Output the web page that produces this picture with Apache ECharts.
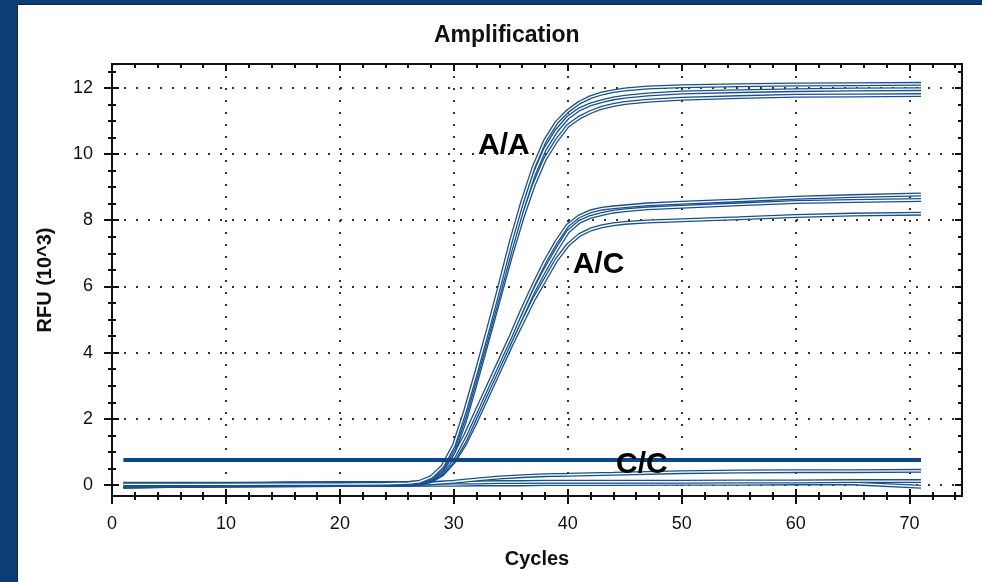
<!DOCTYPE html>
<html>
<head>
<meta charset="UTF-8">
<title>Amplification</title>
<script src="https://cdn.jsdelivr.net/npm/echarts@6/dist/echarts.min.js"></script>
<style>
    html, body { margin: 0; padding: 0; width: 982px; height: 582px; overflow: hidden; background: #0b3d76; }
    #frame { position: absolute; left: 17px; top: 4px; width: 965px; height: 578px; background: #fff;
             border-left: 1px solid #222; border-top: 1px solid #222; box-sizing: border-box; }
    #main { width: 964px; height: 577px; }
</style>
</head>
<body>
<div id="frame"><div id="main"></div></div>
<script type="text/javascript">
    // cycles sampled for the positive curves
    var cycles = [1, 5, 10, 15, 20, 24, 26, 27, 28, 29, 30, 31, 32, 33, 34, 35, 36, 37, 38, 39, 40, 41, 42, 43, 44, 45, 47, 50, 55, 60, 65, 71];
    // A/A wells
    var aa1 = [0.02, 0.02, 0.02, 0.03, 0.03, 0.04, 0.06, 0.1, 0.24, 0.56, 1.2, 2.25, 3.45, 4.7, 6.0, 7.35, 8.55, 9.6, 10.4, 10.95, 11.3, 11.55, 11.72, 11.83, 11.9, 11.95, 12.01, 12.05, 12.08, 12.1, 12.11, 12.12];
    var aa2 = [0, 0, 0, 0, 0.01, 0.02, 0.03, 0.08, 0.2, 0.5, 1.1, 2.1, 3.3, 4.55, 5.8, 7.1, 8.3, 9.35, 10.15, 10.7, 11.1, 11.35, 11.5, 11.6, 11.68, 11.73, 11.8, 11.86, 11.9, 11.93, 11.95, 11.96];
    var aa3 = [-0.04, -0.03, -0.02, -0.01, 0, 0.01, 0.02, 0.06, 0.17, 0.45, 1.0, 1.95, 3.15, 4.4, 5.65, 6.9, 8.05, 9.05, 9.85, 10.4, 10.85, 11.1, 11.27, 11.4, 11.48, 11.54, 11.61, 11.67, 11.72, 11.76, 11.77, 11.78];
    // A/C wells
    var ac1 = [0.04, 0.04, 0.04, 0.05, 0.05, 0.05, 0.06, 0.08, 0.15, 0.4, 0.85, 1.5, 2.25, 3.0, 3.75, 4.5, 5.3, 6.05, 6.75, 7.35, 7.85, 8.12, 8.27, 8.35, 8.39, 8.42, 8.48, 8.53, 8.6, 8.68, 8.73, 8.78];
    var ac2 = [-0.01, -0.01, 0, 0, 0.01, 0.01, 0.02, 0.05, 0.13, 0.35, 0.75, 1.35, 2.1, 2.85, 3.6, 4.35, 5.1, 5.85, 6.5, 7.1, 7.65, 7.95, 8.1, 8.19, 8.26, 8.3, 8.36, 8.41, 8.48, 8.55, 8.58, 8.61];
    var ac3 = [-0.02, 0, 0.01, 0.01, 0.01, 0.01, 0.02, 0.04, 0.12, 0.32, 0.7, 1.25, 1.95, 2.7, 3.45, 4.2, 4.9, 5.6, 6.2, 6.8, 7.25, 7.55, 7.72, 7.82, 7.88, 7.92, 7.96, 8.0, 8.06, 8.13, 8.17, 8.2];
    // C/C and near-zero wells
    var ccCycles = [1, 5, 10, 15, 20, 25, 28, 30, 32, 34, 36, 38, 40, 44, 50, 55, 60, 65, 71];
    var cc1 = [0, 0, 0, 0.01, 0.01, 0.02, 0.05, 0.1, 0.17, 0.23, 0.27, 0.3, 0.31, 0.34, 0.39, 0.41, 0.42, 0.42, 0.43];
    var cc2 = [-0.04, -0.02, 0, 0.05, 0.06, 0.06, 0.07, 0.08, 0.08, 0.09, 0.09, 0.1, 0.1, 0.1, 0.1, 0.11, 0.11, 0.12, 0.12];
    var cc3 = [-0.05, -0.03, -0.01, 0, 0, 0, 0.01, 0.01, 0.02, 0.02, 0.02, 0.03, 0.03, 0.03, 0.04, 0.04, 0.05, 0.05, -0.05];
    // threshold
    var thrCycles = [1, 71];
    var thr = [0.76, 0.76];
    // text labels on the plot
    var noteText = ['A/A', 'A/C', 'C/C'];
    var noteCycle = [34.4, 42.7, 46.5];
    var noteValue = [10.24, 6.65, 0.6];
    // ticks
    var xMajor = [0, 10, 20, 30, 40, 50, 60, 70];
    var xMinor = [2, 4, 6, 8, 12, 14, 16, 18, 22, 24, 26, 28, 32, 34, 36, 38, 42, 44, 46, 48, 52, 54, 56, 58, 62, 64, 66, 68, 72, 74];
    var yMajor = [0, 2, 4, 6, 8, 10, 12];
    var yMinor = [0.5, 1, 1.5, 2.5, 3, 3.5, 4.5, 5, 5.5, 6.5, 7, 7.5, 8.5, 9, 9.5, 10.5, 11, 11.5, 12.5];

    var xMin = 0, xMax = 74.6, yMin = -0.33, yMax = 12.72;
    var font = '"Liberation Sans", Arial, sans-serif';
    var ink = '#111';

    var myChart = echarts.init(document.getElementById('main'));

    function ax(pos, ticks, len, inside, isX) {
        return {
            type: 'value',
            position: pos,
            min: isX ? xMin : yMin,
            max: isX ? xMax : yMax,
            axisLine: { show: true, onZero: false, lineStyle: { color: ink, width: 2 } },
            axisTick: { show: true, inside: inside, length: len, customValues: ticks, lineStyle: { color: ink, width: 2 } },
            axisLabel: { show: false },
            splitLine: { show: false }
        };
    }

    var xMain = ax('bottom', xMajor, 8, false, true);
    xMain.axisLabel = { show: true, customValues: xMajor, fontSize: 18, margin: 19, color: ink, fontFamily: font };
    xMain.splitLine = { show: true, lineStyle: { color: '#333', width: 2, type: [2, 10] } };
    xMain.name = 'Cycles';
    xMain.nameLocation = 'middle';
    xMain.nameGap = 53;
    xMain.nameTextStyle = { fontSize: 20, fontWeight: 'bold', color: ink, fontFamily: font };

    var yMain = ax('left', yMajor, 8, false, false);
    yMain.axisLabel = { show: true, customValues: yMajor, fontSize: 18, margin: 19, color: ink, fontFamily: font };
    yMain.splitLine = { show: true, lineStyle: { color: '#333', width: 2, type: [2, 10] } };
    yMain.name = 'RFU (10^3)';
    yMain.nameLocation = 'middle';
    yMain.nameGap = 57;
    yMain.nameTextStyle = { fontSize: 20, fontWeight: 'bold', color: ink, fontFamily: font };

    var xAxes = [
        xMain,
        ax('bottom', xMajor, 7, true, true),
        ax('bottom', xMinor, 4, false, true),
        ax('bottom', xMinor, 4, true, true),
        ax('top', xMajor, 7, true, true),
        ax('top', xMinor, 4, true, true)
    ];
    var yAxes = [
        yMain,
        ax('left', yMajor, 7, true, false),
        ax('left', yMinor, 4, false, false),
        ax('left', yMinor, 4, true, false),
        ax('right', yMajor, 7, true, false),
        ax('right', yMinor, 4, true, false)
    ];

    function pairs(xs, ys) {
        var out = [];
        for (var i = 0; i < xs.length; i++) out.push([xs[i], ys[i]]);
        return out;
    }

    var curves = [
        pairs(ccCycles, cc3), pairs(ccCycles, cc2), pairs(ccCycles, cc1),
        pairs(cycles, ac3), pairs(cycles, ac2), pairs(cycles, ac1),
        pairs(cycles, aa3), pairs(cycles, aa2), pairs(cycles, aa1)
    ];

    var series = [];
    curves.forEach(function (pts) {
        // each trace is drawn hollow: dark edge with a thin white core
        series.push({ type: 'line', data: pts, symbol: 'none', silent: true,
            lineStyle: { color: '#18508e', width: 4 } });
        series.push({ type: 'line', data: pts, symbol: 'none', silent: true,
            lineStyle: { color: '#ffffff', width: 1.4 } });
    });
    series.push({ type: 'line', data: pairs(thrCycles, thr), symbol: 'none', silent: true,
        lineStyle: { color: '#0b4786', width: 4 } });

    myChart.setOption({
        animation: false,
        title: {
            text: 'Amplification', left: 411, top: 14,
            textStyle: { fontSize: 23, fontWeight: 'bold', color: ink, fontFamily: font }
        },
        grid: { left: 94, top: 59, right: 20, bottom: 86 },
        xAxis: xAxes,
        yAxis: yAxes,
        series: series
    });

    // genotype labels placed through the chart's own scales
    var texts = [];
    for (var i = 0; i < noteText.length; i++) {
        var p = myChart.convertToPixel({ xAxisIndex: 0, yAxisIndex: 0 }, [noteCycle[i], noteValue[i]]);
        texts.push({
            type: 'text', x: p[0], y: p[1], z: 100,
            style: { text: noteText[i], fill: '#000', font: 'bold 30px ' + font, textAlign: 'center', textVerticalAlign: 'middle' }
        });
    }
    myChart.setOption({ graphic: texts });
</script>
</body>
</html>
